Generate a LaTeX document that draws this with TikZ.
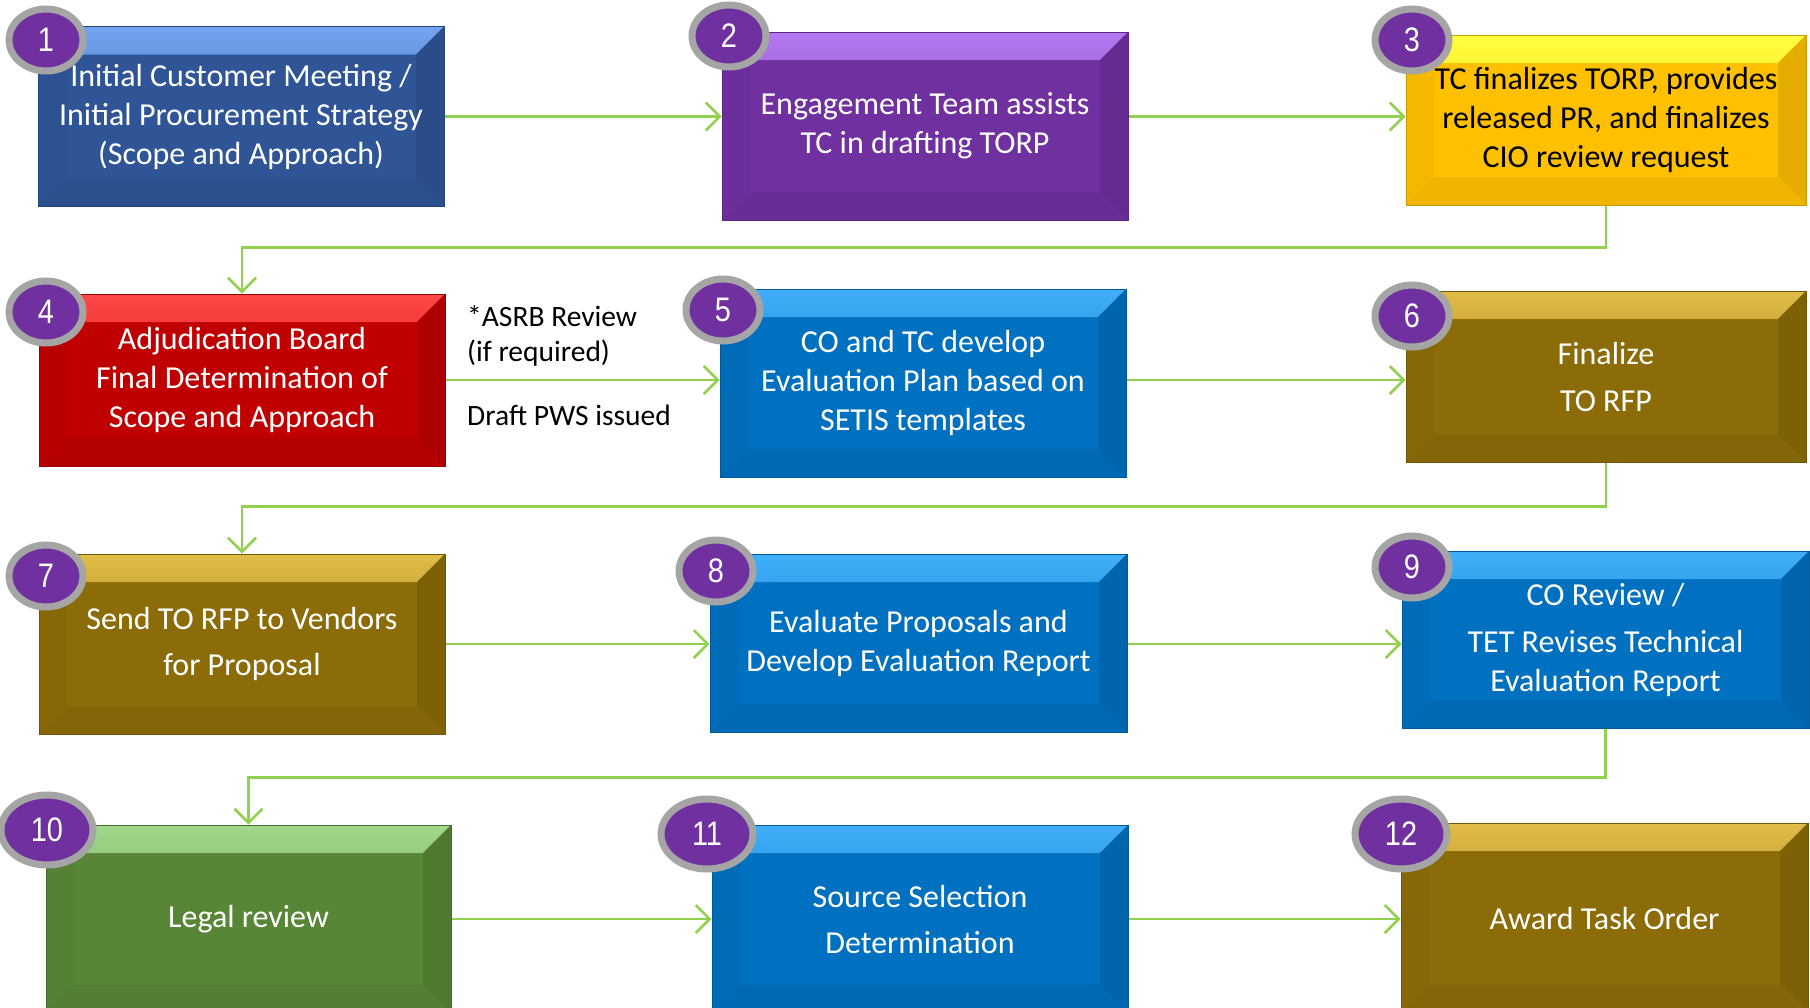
\documentclass[tikz,border=0pt]{standalone}
\usepackage{fontspec}
\setmainfont{Carlito}
\newfontfamily\numfont[FakeStretch=0.85]{Liberation Sans}
\usetikzlibrary{shapes,arrows.meta}
\definecolor{boxblue}{HTML}{2F5597}
\definecolor{boxbluetop}{HTML}{74A4F0}
\definecolor{boxpurple}{HTML}{7030A0}
\definecolor{boxpurpletop}{HTML}{B478F0}
\definecolor{boxyellow}{HTML}{FFC000}
\definecolor{boxyellowtop}{HTML}{FFFF40}
\definecolor{boxred}{HTML}{C00000}
\definecolor{boxredtop}{HTML}{FF4848}
\definecolor{boxocean}{HTML}{0070C0}
\definecolor{boxoceantop}{HTML}{40AEF8}
\definecolor{boxolive}{HTML}{8C6C08}
\definecolor{boxolivetop}{HTML}{E0BC48}
\definecolor{boxgreen}{HTML}{588637}
\definecolor{boxgreentop}{HTML}{A0D88C}
\definecolor{numpurple}{HTML}{7030A0}
\definecolor{ringgray}{HTML}{A5A5A5}
\definecolor{flowgreen}{HTML}{92D050}
\newcommand{\bevel}[1]{%
\shade [top color=#1top, bottom color=#1] (path picture bounding box.north west) -- (path picture bounding box.north east) -- ([xshift=-28pt,yshift=-28pt]path picture bounding box.north east) -- ([xshift=28pt,yshift=-28pt]path picture bounding box.north west) -- cycle;
\fill [#1!96!black] (path picture bounding box.north west) -- ([xshift=28pt,yshift=-28pt]path picture bounding box.north west) -- ([xshift=28pt,yshift=28pt]path picture bounding box.south west) -- (path picture bounding box.south west) -- cycle;
\fill [#1!90!black] (path picture bounding box.north east) -- ([xshift=-28pt,yshift=-28pt]path picture bounding box.north east) -- ([xshift=-28pt,yshift=28pt]path picture bounding box.south east) -- (path picture bounding box.south east) -- cycle;
\fill [#1!94!black] (path picture bounding box.south west) -- ([xshift=28pt,yshift=28pt]path picture bounding box.south west) -- ([xshift=-28pt,yshift=28pt]path picture bounding box.south east) -- (path picture bounding box.south east) -- cycle;}
\tikzset{stage/.style={rectangle, draw=#1!80!black, line width=1pt, fill=#1, text=white, align=center, inner sep=0pt, minimum width=406pt, minimum height=180pt, font=\fontsize{32}{39}\selectfont, path picture={\bevel{#1}}}}
\tikzset{num/.style={ellipse, draw=ringgray, line width=7pt, fill=numpurple, text=white, inner sep=0pt, minimum width=74pt, minimum height=62pt, font=\numfont\fontsize{34}{34}\selectfont}}
\tikzset{bignum/.style={num, minimum width=92pt, minimum height=70pt}}
\tikzset{flow/.style={draw=flowgreen, line width=2.5pt, -{Straight Barb[length=14pt,width=28pt]}}}
\tikzset{note/.style={anchor=west, inner sep=0pt, align=left, font=\fontsize{29.5}{35}\selectfont}}

\begin{document}
\begin{tikzpicture}[x=1pt,y=-1pt]
\useasboundingbox (0,0) rectangle (1810,1007);
\clip (0,0) rectangle (1810,1007);
\node [stage=boxblue] (b1) at (241,116.5) {Initial Customer Meeting /\\Initial Procurement Strategy\\(Scope and Approach)};
\node [stage=boxpurple, minimum height=188pt] (b2) at (925,126) {Engagement Team assists\\TC in drafting TORP};
\node [stage=boxyellow, text=black, minimum width=400pt, minimum height=170pt] (b3) at (1606,120) {TC finalizes TORP, provides\\released PR, and finalizes\\CIO review request};
\node [stage=boxred, minimum height=172pt] (b4) at (242,380) {Adjudication Board\\Final Determination of\\Scope and Approach};
\node [stage=boxocean, minimum height=188pt] (b5) at (923,383) {CO and TC develop\\Evaluation Plan based on\\SETIS templates};
\node [stage=boxolive, minimum width=400pt, minimum height=171pt] (b6) at (1606,376.5) {Finalize\\[8pt]TO RFP};
\node [stage=boxolive] (b7) at (242,644) {Send TO RFP to Vendors\\[7pt]for Proposal};
\node [stage=boxocean, minimum width=417pt, minimum height=178pt] (b8) at (918.5,643) {Evaluate Proposals and\\Develop Evaluation Report};
\node [stage=boxocean, minimum width=407pt, minimum height=177pt] (b9) at (1605.5,639.5) {CO Review /\\[8pt]TET Revises Technical\\Evaluation Report};
\node [stage=boxgreen, minimum width=405pt, minimum height=188pt] (b10) at (248.5,919) {Legal review};
\node [stage=boxocean, minimum width=416pt, minimum height=188pt] (b11) at (920,919) {Source Selection\\[7pt]Determination};
\node [stage=boxolive, minimum width=407pt, minimum height=190pt] (b12) at (1604.5,918) {Award Task Order};
\node [note] (asrb) at (467,336) {*ASRB Review\\(if required)};
\node [note] (pws) at (467,415) {Draft PWS issued};
%Edge
\draw [flow] (b1.east) -- (b1.east -| b2.west);
\draw [flow] (b2.east |- b1.east) -- (b1.east -| b3.west);
\draw [flow] (b3.south) -- ++(0,42) -| (b4.north);
\draw [flow] (b4.east) -- (b4.east -| b5.west);
\draw [flow] (b5.east |- b4.east) -- (b4.east -| b6.west);
\draw [flow] (b6.south) -- ++(0,44) -| (b7.north);
\draw [flow] (b7.east) -- (b7.east -| b8.west);
\draw [flow] (b8.east |- b7.east) -- (b7.east -| b9.west);
\draw [flow] (b9.south) -- ++(0,49) -| (b10.north);
\draw [flow] (b10.east) -- (b10.east -| b11.west);
\draw [flow] (b11.east |- b10.east) -- (b10.east -| b12.west);
%Numbers
\node [num] (n1) at (46,40) {1};
\node [num] (n2) at (729,36) {2};
\node [num] (n3) at (1412,40) {3};
\node [num] (n4) at (46,312) {4};
\node [num] (n5) at (723,310) {5};
\node [num] (n6) at (1412,316) {6};
\node [num] (n7) at (46,576) {7};
\node [num] (n8) at (716,571) {8};
\node [num] (n9) at (1412,567) {9};
\node [bignum] (n10) at (47,830) {10};
\node [bignum] (n11) at (707,834) {11};
\node [bignum] (n12) at (1401,834) {12};
\end{tikzpicture}
\end{document}
